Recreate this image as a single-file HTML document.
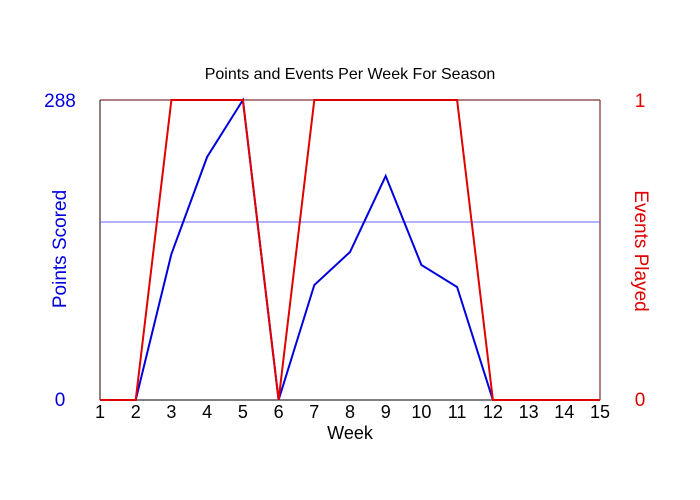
<!DOCTYPE html>
<html><head><meta charset="utf-8"><style>body{margin:0;background:#fff}svg{display:block}</style></head>
<body>
<svg width="700" height="500" xmlns="http://www.w3.org/2000/svg" font-family="Liberation Sans, sans-serif">
<rect width="700" height="500" fill="#fff"/>
<text x="350" y="79" font-size="16" text-anchor="middle" fill="#000">Points and Events Per Week For Season</text>
<line x1="100" y1="100" x2="600" y2="100" stroke="#600000" stroke-width="1"/>
<line x1="100" y1="100" x2="100" y2="400" stroke="#200000" stroke-width="1"/>
<line x1="600" y1="100" x2="600" y2="400" stroke="#600000" stroke-width="1"/>
<line x1="100" y1="400" x2="600" y2="400" stroke="#000" stroke-width="1"/>
<line x1="100" y1="222" x2="600" y2="222" stroke="#6666ff" stroke-width="1"/>
<polyline fill="none" stroke="#0000dd" stroke-width="2" points="100,400 135.7,400 171.4,254 207.1,157 242.9,100 278.6,400 314.3,285 350,252 385.7,176 421.4,265 457.1,287 492.9,400 600,400"/>
<polyline fill="none" stroke="#e00000" stroke-width="2" points="100,400 135.7,400 171.4,100 242.9,100 278.6,400 314.3,100 457.1,100 492.9,400 600,400"/>
<g font-size="18" text-anchor="middle" fill="#000">
<text x="100" y="418">1</text><text x="135.7" y="418">2</text><text x="171.4" y="418">3</text><text x="207.1" y="418">4</text><text x="242.9" y="418">5</text><text x="278.6" y="418">6</text><text x="314.3" y="418">7</text><text x="350" y="418">8</text><text x="385.7" y="418">9</text><text x="421.4" y="418">10</text><text x="457.1" y="418">11</text><text x="492.9" y="418">12</text><text x="528.6" y="418">13</text><text x="564.3" y="418">14</text><text x="600" y="418">15</text>
<text x="350" y="439">Week</text>
</g>
<g font-size="19" fill="#0000dd">
<text x="60" y="107" text-anchor="middle">288</text>
<text x="60" y="406" text-anchor="middle">0</text>
<text transform="translate(66,249) rotate(-90)" text-anchor="middle">Points Scored</text>
</g>
<g font-size="19" fill="#e00000">
<text x="640" y="107" text-anchor="middle">1</text>
<text x="640" y="406" text-anchor="middle">0</text>
<text transform="translate(635,251) rotate(90)" text-anchor="middle">Events Played</text>
</g>
</svg>
</body></html>
